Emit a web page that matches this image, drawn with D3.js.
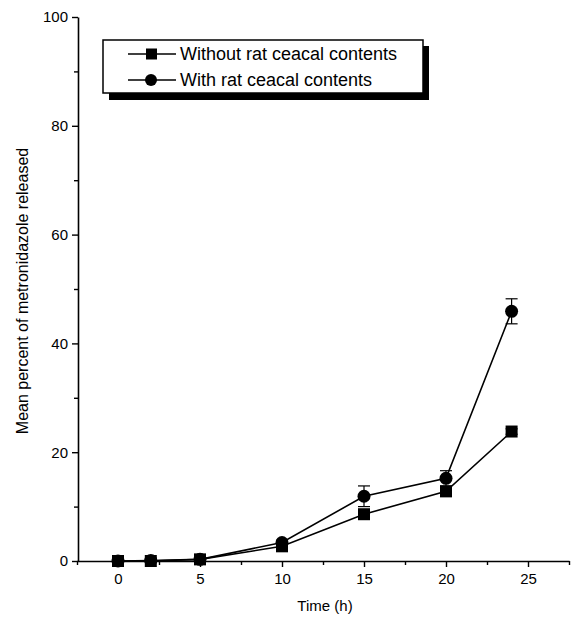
<!DOCTYPE html>
<html><head><meta charset="utf-8">
<script src="https://cdn.jsdelivr.net/npm/d3@7"></script>
<style>body{margin:0;background:#fff}svg text{font-family:"Liberation Sans",Arial,sans-serif;fill:#000}</style>
</head><body><svg id="c" width="571" height="618"></svg>
<script>
const times = [0, 2, 5, 10, 15, 20, 24];
const withoutVals = [0, 0, 0.3, 2.7, 8.6, 12.8, 23.8];
const withoutErr = [0.2, 0.2, 0.3, 0.4, 0.6, 0.5, 0.5];
const withVals = [0, 0.1, 0.3, 3.4, 11.9, 15.2, 45.9];
const withErr = [0.2, 0.2, 0.3, 0.4, 1.9, 1.4, 2.3];
const xTicks = [0, 5, 10, 15, 20, 25];
const yTicks = [0, 20, 40, 60, 80, 100];
const legendLabels = ["Without rat ceacal contents", "With rat ceacal contents"];

const svg = d3.select("#c");
const x = d3.scaleLinear().domain([-2.5, 27.5]).range([77, 569]);
const y = d3.scaleLinear().domain([0, 100]).range([561, 17]);

const xAx = svg.append("g").attr("transform", "translate(0,561)")
  .call(d3.axisBottom(x).tickValues(xTicks).tickSize(6).tickSizeOuter(0).tickPadding(6).tickFormat(d3.format("d")));
const xMin = svg.append("g").attr("transform", "translate(0,561)")
  .call(d3.axisBottom(x).tickValues(d3.range(-2.5, 27.6, 2.5).filter(v => v % 5 !== 0)).tickSize(4).tickSizeOuter(0).tickFormat(""));
const yAx = svg.append("g").attr("transform", "translate(78,0)")
  .call(d3.axisLeft(y).tickValues(yTicks).tickSize(6).tickSizeOuter(0).tickPadding(4).tickFormat(d3.format("d")));
const yMin = svg.append("g").attr("transform", "translate(78,0)")
  .call(d3.axisLeft(y).tickValues([10, 30, 50, 70, 90]).tickSize(4).tickSizeOuter(0).tickFormat(""));
xMin.select(".domain").remove();
yMin.select(".domain").remove();
svg.selectAll(".domain").attr("stroke", "#000").attr("stroke-width", 1.6);
svg.selectAll(".tick line").attr("stroke", "#000").attr("stroke-width", 1.4);
svg.selectAll(".tick text").attr("font-size", 15);

svg.append("text").attr("x", 325).attr("y", 611).attr("text-anchor", "middle").attr("font-size", 15).text("Time (h)");
svg.append("text").attr("transform", "translate(28,291) rotate(-90)").attr("text-anchor", "middle").attr("font-size", 16).text("Mean percent of metronidazole released");

const series = [
  {vals: withoutVals, err: withoutErr, shape: "square"},
  {vals: withVals, err: withErr, shape: "circle"}
];
const line = d3.line().x(d => x(d[0])).y(d => y(d[1]));
series.forEach(s => {
  const pts = times.map((t, i) => [t, s.vals[i], s.err[i]]);
  svg.append("path").attr("d", line(pts)).attr("fill", "none").attr("stroke", "#000").attr("stroke-width", 1.6);
  pts.forEach(p => {
    const cx = x(p[0]);
    [p[1] + p[2], p[1] - p[2]].forEach(v => {
      svg.append("line").attr("x1", cx).attr("x2", cx).attr("y1", y(p[1])).attr("y2", y(v)).attr("stroke", "#000").attr("stroke-width", 1.2);
      svg.append("line").attr("x1", cx - 6).attr("x2", cx + 6).attr("y1", y(v)).attr("y2", y(v)).attr("stroke", "#000").attr("stroke-width", 1.2);
    });
    if (s.shape === "square") svg.append("rect").attr("x", cx - 6).attr("y", y(p[1]) - 6).attr("width", 12).attr("height", 12).attr("fill", "#000");
    else svg.append("circle").attr("cx", cx).attr("cy", y(p[1])).attr("r", 6.5).attr("fill", "#000");
  });
});

const lg = svg.append("g");
lg.append("rect").attr("x", 109).attr("y", 46).attr("width", 320).attr("height", 54).attr("fill", "#000");
lg.append("rect").attr("x", 103).attr("y", 40).attr("width", 320).attr("height", 53).attr("fill", "#fff").attr("stroke", "#000").attr("stroke-width", 1.5);
[54, 80].forEach((ly, i) => {
  lg.append("line").attr("x1", 128).attr("x2", 176).attr("y1", ly).attr("y2", ly).attr("stroke", "#000").attr("stroke-width", 1.3);
  if (i === 0) lg.append("rect").attr("x", 146).attr("y", ly - 5.5).attr("width", 11).attr("height", 11).attr("fill", "#000");
  else lg.append("circle").attr("cx", 151).attr("cy", ly).attr("r", 6).attr("fill", "#000");
  lg.append("text").attr("x", 180).attr("y", ly + 6).attr("font-size", 18).text(legendLabels[i]);
});
</script></body></html>
